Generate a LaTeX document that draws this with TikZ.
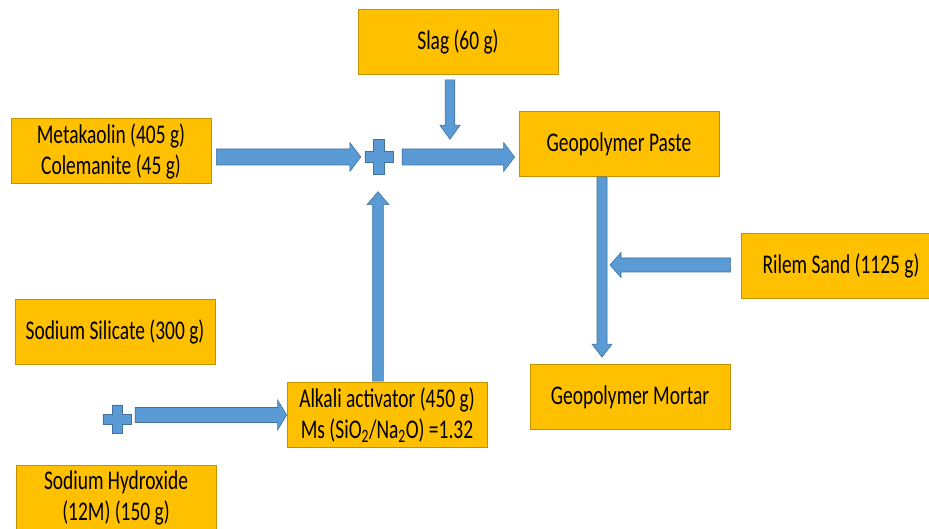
\documentclass[tikz,border=0pt]{standalone}
\usepackage{fontspec}
\setmainfont{Carlito}[FakeStretch=0.72]
\usepackage{tikz}
\usetikzlibrary{positioning}
\usetikzlibrary{calc}

\definecolor{boxfill}{HTML}{FFC000}
\definecolor{boxline}{HTML}{C29300}
\definecolor{flowfill}{HTML}{5B9BD5}
\definecolor{flowline}{HTML}{41719C}

\tikzset{
	box/.style={draw=boxline, fill=boxfill, line width=0.8pt, minimum width=200, minimum height=65, inner sep=2, align=center, font=\fontsize{27}{31}\selectfont},
	flow/.style={fill=flowfill, draw=flowline, line width=0.6pt},
	hub/.style={minimum width=28, minimum height=28, inner sep=0}
}

% block arrow: from, to, half shaft, half head, head length
\newcommand{\blockarrow}[5]{%
	\filldraw[flow] ($(#1)!#3!90:(#2)$) -- ($(#2)!#5!(#1)!#3!-90:(#1)$) -- ($(#2)!#5!(#1)!#4!-90:(#1)$) -- (#2) -- ($(#2)!#5!(#1)!#4!90:(#1)$) -- ($(#2)!#5!(#1)!#3!90:(#1)$) -- ($(#1)!#3!-90:(#2)$) -- cycle;}

% plus sign on a hub node, half bar thickness
\newcommand{\plussign}[2]{%
	\filldraw[flow] ($(#1.north)+(-#2,0)$) -- ($(#1.north)+(#2,0)$) -- ($(#1.center)+(#2,-#2)$) -- ($(#1.east)+(0,-#2)$) -- ($(#1.east)+(0,#2)$) -- ($(#1.center)+(#2,#2)$) -- ($(#1.south)+(#2,0)$) -- ($(#1.south)+(-#2,0)$) -- ($(#1.center)+(-#2,#2)$) -- ($(#1.west)+(0,#2)$) -- ($(#1.west)+(0,-#2)$) -- ($(#1.center)+(-#2,-#2)$) -- cycle;}

\begin{document}
\begin{tikzpicture}[x=1pt, y=-1pt]
				\useasboundingbox (0,0) rectangle (929,529);

				%Nodes
				\node[box]      (slag) 	at 	(458,42) 	{Slag (60 g)};
				\node[box]      (meta) 	at 	(111,151) 	{Metakaolin (405 g)\\Colemanite (45 g)};
				\node[box]      (paste) 	at 	(619,144) 	{Geopolymer Paste};
				\node[box]      (sand) 	at 	(841,266) 	{Rilem Sand (1125 g)};
				\node[box]      (silicate) 	at 	(115,332) 	{Sodium Silicate (300 g)};
				\node[box]      (mortar) 	at 	(630,397) 	{Geopolymer Mortar};
				\node[box]      (alkali) 	at 	(387,415) 	{Alkali activator (450 g)\\Ms (SiO\textsubscript{2}/Na\textsubscript{2}O) =1.32};
				\node[box]      (hydroxide) 	at 	(116,498) 	{Sodium Hydroxide\\(12M) (150 g)};
				\node[hub, minimum height=35]      (plusA) 	at 	(379,157) 	{};
				\node[hub]      (plusB) 	at 	(117,419) 	{};

				%Plus signs
				\plussign{plusA}{5.75}
				\plussign{plusB}{5}

				%Arrows
				\blockarrow{$(meta.east |- plusA)+(5,0)$}{$(plusA.west)+(-4,0)$}{8pt}{14.5pt}{11pt}
				\blockarrow{$(plusA.east)+(9,0)$}{$(paste.west |- plusA)+(-4,0)$}{8pt}{14.5pt}{11pt}
				\blockarrow{$(slag.south)+(-8,5)$}{$(slag.south |- plusA.north)+(-8,0)$}{4.75pt}{10pt}{14pt}
				\blockarrow{$(alkali.north)+(-9,-1)$}{$(alkali.north |- plusA.south)+(-9,17)$}{5.3pt}{11pt}{13pt}
				\blockarrow{$(paste.south)+(-17,0)$}{$(paste.south |- mortar.north)+(-17,-7)$}{5pt}{10pt}{13pt}
				\blockarrow{$(sand.west)+(-10,-1)$}{$(paste.south |- sand.west)+(-9,-1)$}{7pt}{12.5pt}{11pt}
				\blockarrow{$(plusB.east |- alkali.west)+(4,0)$}{alkali.west}{7.5pt}{15pt}{9pt}

			\end{tikzpicture}
\end{document}
